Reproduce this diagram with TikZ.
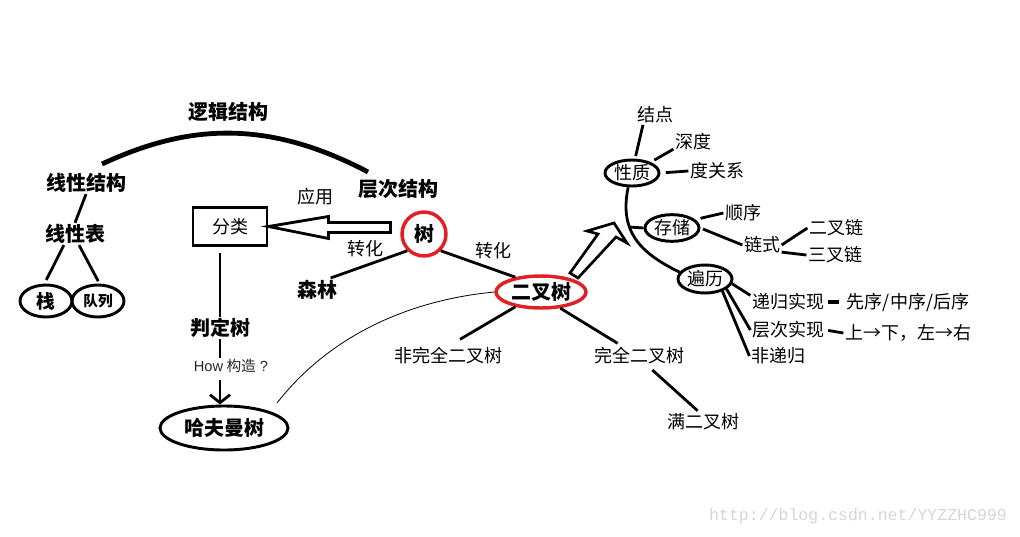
\documentclass[tikz,border=0pt]{standalone}
\usepackage{fontspec}
\setmainfont{Noto Sans CJK SC}
\newfontfamily\hfont{Liberation Sans}
\newfontfamily\wmfont{Liberation Mono}
\usetikzlibrary{shapes.geometric,arrows.meta}
\definecolor{rd}{RGB}{224,32,36}
\tikzset{
  fr/.style={font=\fontsize{13.5}{16}\selectfont},
  fb/.style={font=\fontsize{15}{18}\selectfont\bfseries},
  lk/.style={line width=2.1pt},
  arcline/.style={line width=3.6pt},
  thinline/.style={line width=0.6pt},
  bell/.style={draw, ellipse, line width=2.2pt, inner sep=0pt},
  rell/.style={draw=rd, ellipse, line width=2.6pt, inner sep=0pt},
}
\begin{document}
\begin{tikzpicture}[x=0.75pt,y=-0.75pt,inner sep=1pt]
\fill[white] (0,0) rectangle (1020,536);
\useasboundingbox (0,0) rectangle (1020,536);

% left part
\node[fb] (ljjg) at (228,112) {逻辑结构};
\node[fb] (xxjg) at (86,183) {线性结构};
\node[fb] (xxb) at (75,234) {线性表};
\node[bell, minimum width=39pt, minimum height=24pt, font=\fontsize{14}{16}\selectfont\bfseries] (zhan) at (46,301) {栈};
\node[bell, minimum width=39pt, minimum height=24pt, font=\fontsize{11}{13}\selectfont\bfseries] (dl) at (98,301) {队列};
\node[draw, line width=2.2pt, minimum width=55.5pt, minimum height=29pt, fr] (fl) at (230,226.5) {分类};
\node[fr] (yy) at (315,197) {应用};
\node[fb] (ccjg) at (398,189) {层次结构};
\node[rell, minimum width=33pt, minimum height=33pt, fb] (shu) at (424,234) {树};
\node[fr] (zh1) at (365,249) {转化};
\node[fr] (zh2) at (493,251) {转化};
\node[fb] (sl) at (317,290) {森林};
\node[rell, minimum width=67.5pt, minimum height=24pt, fb] (ect) at (541,292) {二叉树};
\node[fb] (pdt) at (220,328) {判定树};
\node[font=\fontsize{11}{13}\selectfont, text=black!85] (how) at (231,366) {{\hfont How} 构造{\hfont\ ?}};
\node[bell, minimum width=96pt, minimum height=33pt, fb] (hfm) at (224,428) {哈夫曼树};
\node[fr] (fwq) at (448,356) {非完全二叉树};
\node[fr] (wq) at (639,356) {完全二叉树};
\node[fr] (man) at (703,422) {满二叉树};

% right part
\node[bell, minimum width=40.5pt, minimum height=19.5pt, fr] (xz) at (632,173) {性质};
\node[fr] (jd) at (655,115) {结点};
\node[fr] (sd) at (693,142) {深度};
\node[fr] (dgx) at (717,171) {度关系};
\node[bell, minimum width=40.5pt, minimum height=20pt, fr] (cc) at (672,228) {存储};
\node[fr] (sx) at (743,213) {顺序};
\node[fr] (ls) at (762,245) {链式};
\node[fr] (ecl) at (836,228) {二叉链};
\node[fr] (scl) at (835,255) {三叉链};
\node[bell, minimum width=40.5pt, minimum height=21pt, fr] (bl) at (705,279) {遍历};
\node[fr] (dg) at (788,302) {递归实现};
\node[fr] (xu) at (908,302) {先序/中序/后序};
\node[fr] (ccsx) at (788,330) {层次实现};
\node[fr] (sxzy) at (908,333) {上→下，左→右};
\node[fr] (fdg) at (778,356) {非递归};

\node[font=\wmfont\fontsize{12.4}{14}\selectfont, text=black!16] (wm) at (858,516) {http://blog.csdn.net/YYZZHC999};

% connectors
\coordinate (arcL) at (102,164);
\coordinate (arcR) at (368,172);
\draw[arcline] (arcL) .. controls (180,128) and (260,115) .. (arcR);
\draw[lk] (xxjg.south) -- (xxb.north);
\draw[lk, shorten >=3pt] (xxb.225) -- (zhan.95);
\draw[lk, shorten >=2pt] (xxb.-70) -- (dl.85);

\draw[lk] (fl.east) -- ++(60,-10) -- ++(0,6) -- ++(62,0) -- ++(0,10) -- ++(-62,0) -- ++(0,6) -- cycle;
\draw[lk, shorten <=4pt] (fl.south -| pdt.north) -- (pdt.north);
\draw[lk] (pdt.south) -- (pdt.south |- how.north);
\draw[lk, shorten <=4pt, -{Straight Barb[length=6pt,width=15pt]}] (how.south -| pdt.south) -- (pdt.south |- hfm.north);

\draw[lk, shorten >=2pt] (shu.225) -- (sl.45);
\draw[lk] (shu.-45) -- (ect.150);
\draw[lk] (ect.210) -- ([xshift=9pt,yshift=5pt]fwq.north);
\draw[lk] (ect.-40) -- ([xshift=-16pt,yshift=2pt]wq.north);
\draw[lk] ([xshift=10pt,yshift=-3pt]wq.south) -- ([xshift=-4pt,yshift=1pt]man.north);
\coordinate (hfmEnd) at (277,403);
\draw[thinline] (ect.west) .. controls (410,300) and (330,335) .. (hfmEnd);

\draw[lk, line width=2pt] (570,273) -- (598,234) -- (587,231) -- (614,223) -- (627,243) -- (616,237) -- (578,278) -- cycle;

\draw[lk, shorten <=2pt] (xz.78) -- ([xshift=-9pt]jd.south);
\draw[lk, shorten <=3pt] (xz.30) -- (sd.200);
\draw[lk, shorten <=4pt] (xz.east) -- (dgx.west);
\draw[lk] (xz.-105) .. controls (618,235) and (645,255) .. (bl.165);
\draw[lk] (cc.west) -- ++(-14,-1);
\draw[lk, shorten <=4pt] (cc.20) -- (sx.west);
\draw[lk, shorten <=2pt] (cc.east) -- (ls.west);
\draw[lk] (ls.east) -- (ecl.west);
\draw[lk] (ls.-20) -- (scl.west);
\draw[lk] (bl.-10) -- (dg.170);
\draw[lk] (bl.-25) -- (ccsx.west);
\draw[lk] (bl.-35) -- (fdg.west);
\draw[line width=2.8pt, shorten <=2pt, shorten >=5pt] (dg.east) -- (xu.west);
\draw[lk, shorten <=2pt] (ccsx.east) -- (sxzy.west);
\end{tikzpicture}
\end{document}
